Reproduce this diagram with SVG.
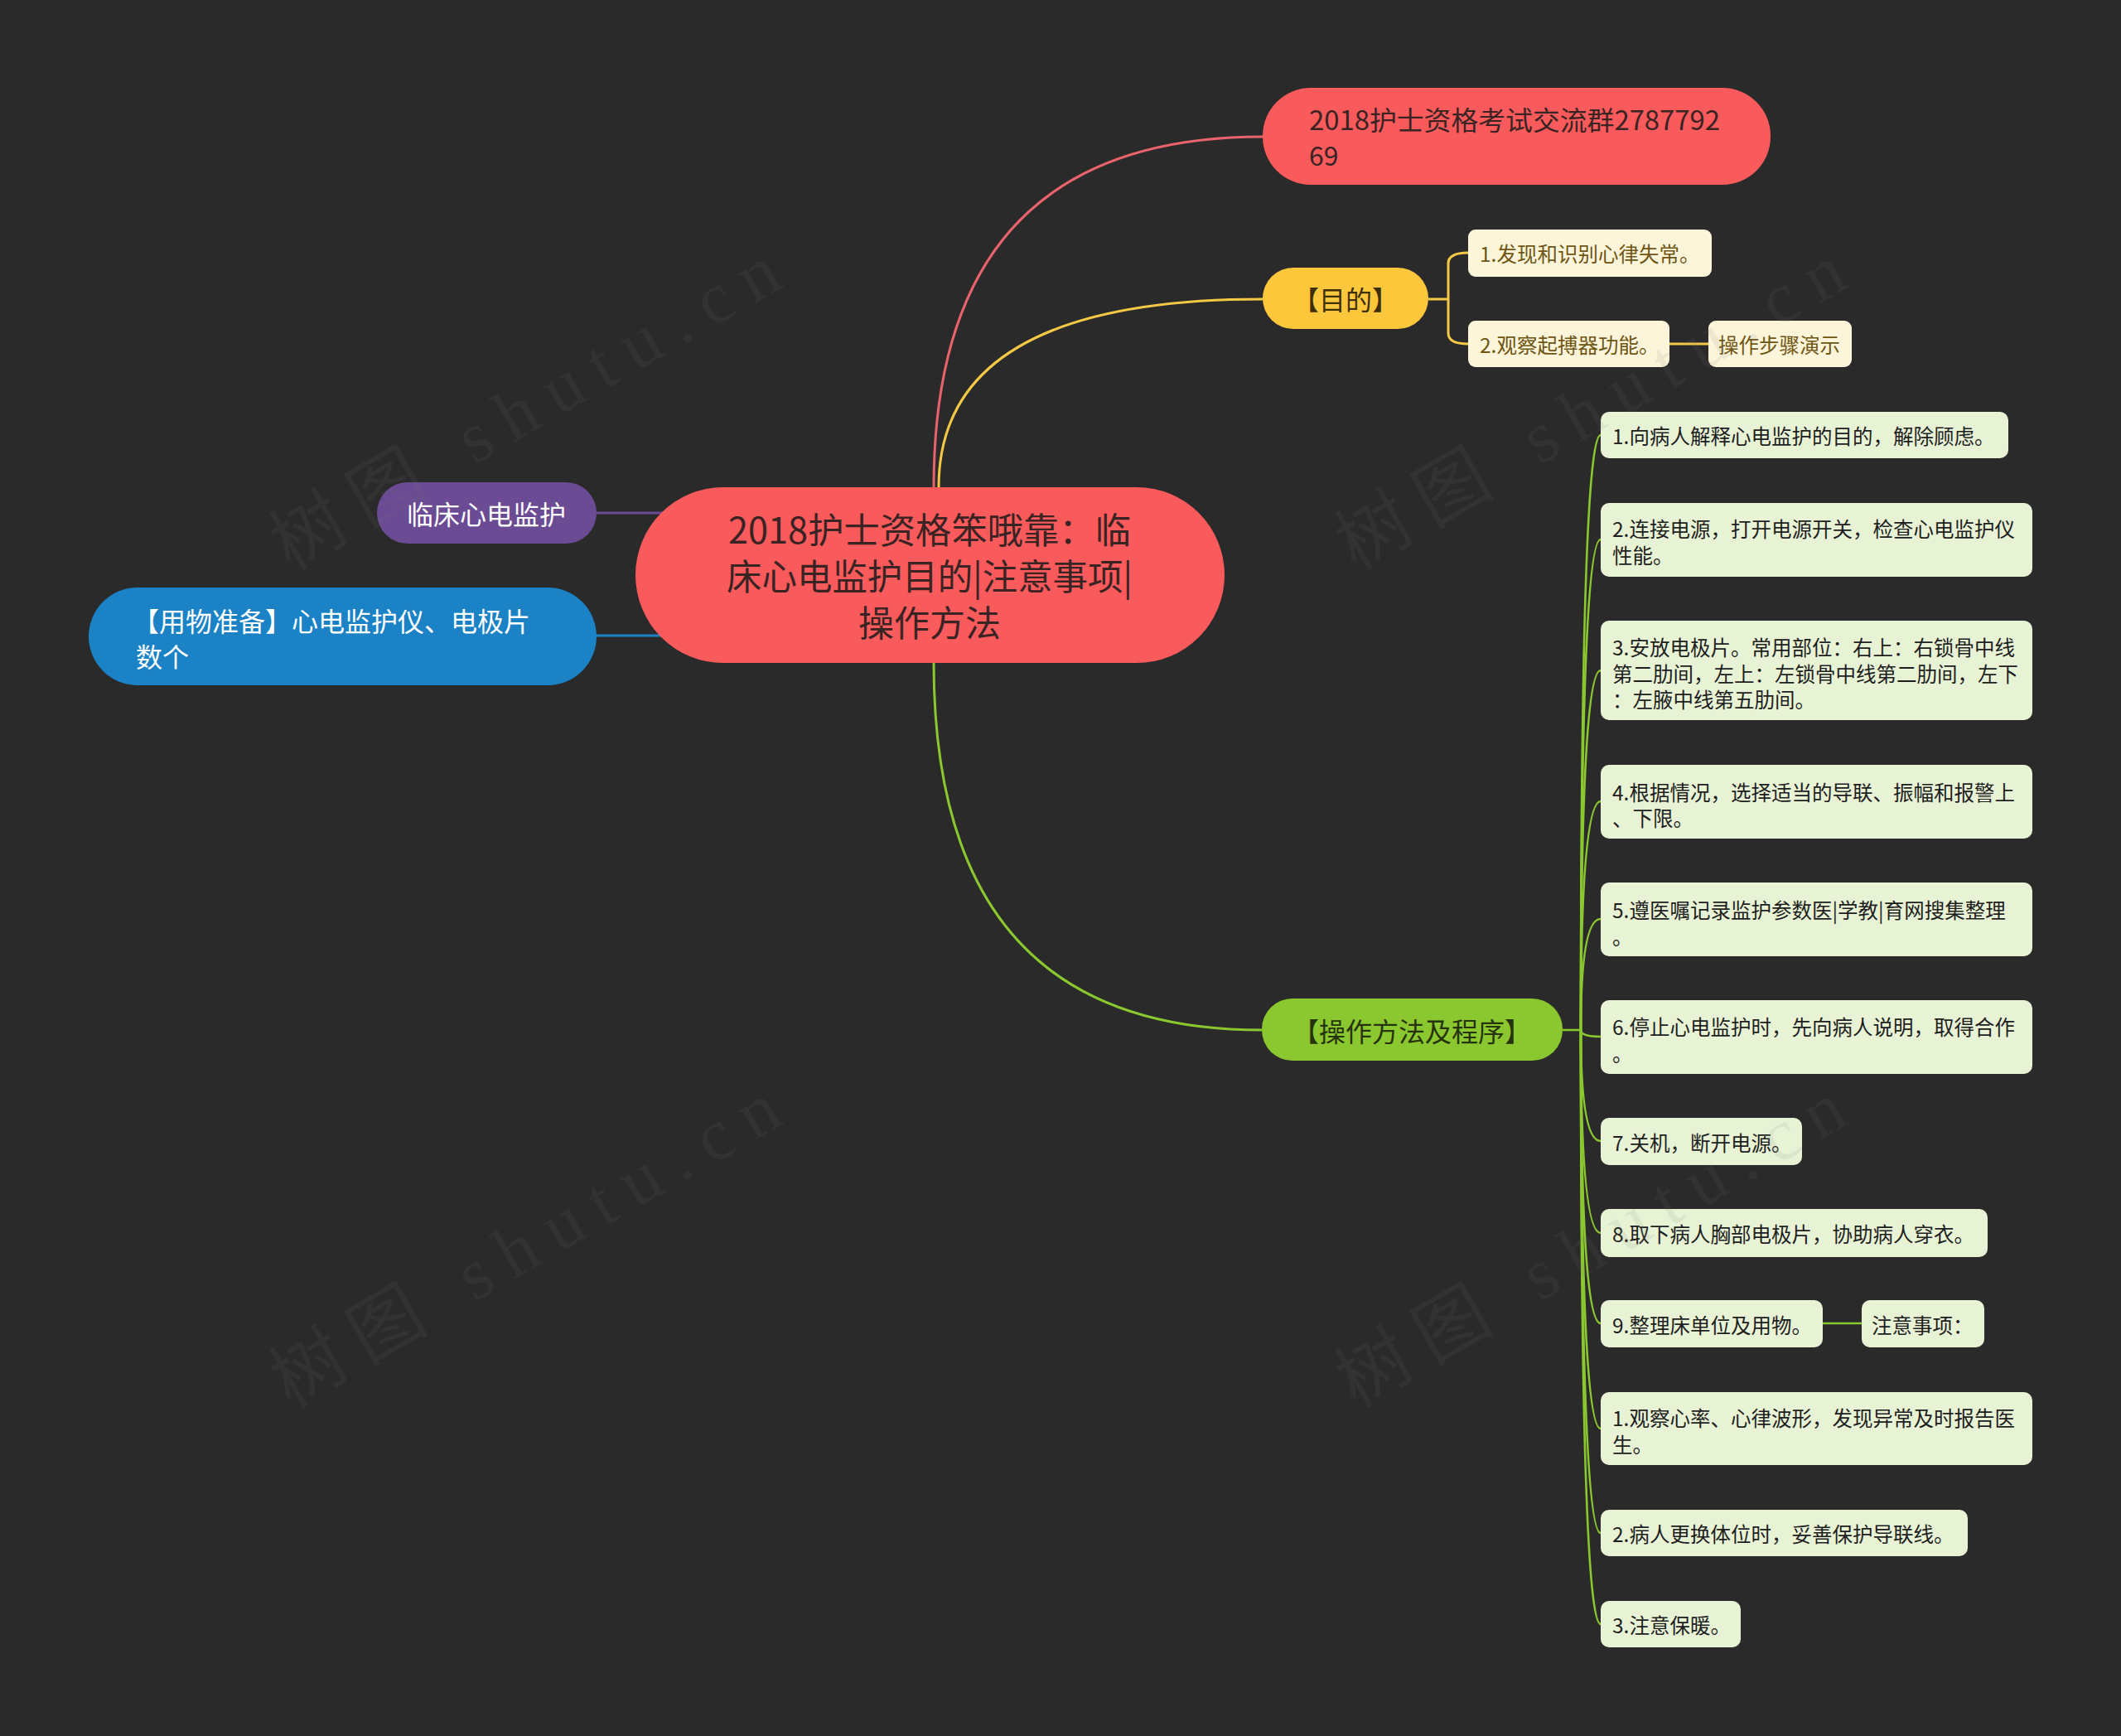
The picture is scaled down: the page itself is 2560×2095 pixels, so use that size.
<svg xmlns="http://www.w3.org/2000/svg" width="2560" height="2095" viewBox="0 0 2560 2095">
<defs>
<style>
text{font-family:"Noto Sans CJK SC","Noto Sans",sans-serif;dominant-baseline:central}
.main{font-size:43px;fill:#3a2323}
.t32{font-size:32px}
.t24{font-size:24.5px}
.dark{fill:#3a2323}
.white{fill:#ffffff}
.yd{fill:#3d2f0a}
.yc{fill:#6e5513}
.gd{fill:#26330f}
.gc{fill:#1e1e1e}
.ybox{fill:#fdf5da}
.gbox{fill:#e8f3d5}
.wm{font-family:"Liberation Serif","Noto Sans CJK SC",serif;font-size:88px;fill:#777777;fill-opacity:0.11;dominant-baseline:alphabetic}
.c{fill:none;stroke-width:3}
</style>
</defs>
<rect width="2560" height="2095" fill="#2a2a2a"/>
<g id="connectors">
<path class="c" stroke="#e8636b" d="M1127,588 Q1127,165 1524,165"/>
<path class="c" stroke="#f5c846" d="M1133,588 Q1133,361 1524,361"/>
<path class="c" stroke="#8bc72f" d="M1127,800 Q1127,1243 1523,1243"/>
<path class="c" stroke="#6b4b94" d="M720,619 H900"/>
<path class="c" stroke="#1b82c5" d="M720,767 H900"/>
<path class="c" stroke="#f5c846" d="M1724,361 H1748 M1748,361 V318 Q1748,305 1772,305 M1748,361 V402 Q1748,415 1772,415 M2015,415 H2062"/>
<g stroke="#8bc72f" fill="none" stroke-width="2.6">
<path d="M1886,1243 H1908"/>
<path d="M1908,1243 Q1908,525 1932,525"/>
<path d="M1908,1243 Q1908,651 1932,651"/>
<path d="M1908,1243 Q1908,809 1932,809"/>
<path d="M1908,1243 Q1908,967 1932,967"/>
<path d="M1908,1243 Q1908,1109 1932,1109"/>
<path d="M1908,1243 Q1908,1251 1932,1251"/>
<path d="M1908,1243 Q1908,1377 1932,1377"/>
<path d="M1908,1243 Q1908,1488 1932,1488"/>
<path d="M1908,1243 Q1908,1597 1932,1597"/>
<path d="M1908,1243 Q1908,1724 1932,1724"/>
<path d="M1908,1243 Q1908,1850 1932,1850"/>
<path d="M1908,1243 Q1908,1960 1932,1960"/>
<path d="M2200,1597 H2247"/>
</g>
</g>
<g id="central">
<rect x="767" y="588" width="711" height="212" rx="106" fill="#f95a5b"/>
<text class="main" x="1122" y="637" text-anchor="middle" textLength="486" lengthAdjust="spacingAndGlyphs">2018护士资格笨哦靠：临</text>
<text class="main" x="1122" y="693" text-anchor="middle" textLength="490" lengthAdjust="spacingAndGlyphs">床心电监护目的|注意事项|</text>
<text class="main" x="1122" y="749" text-anchor="middle">操作方法</text>
</g>
<g id="n-qq">
<rect x="1524" y="106" width="613" height="117" rx="58" fill="#f95a5b"/>
<text class="t32 dark" x="1580" y="143" textLength="496" lengthAdjust="spacingAndGlyphs">2018护士资格考试交流群2787792</text>
<text class="t32 dark" x="1580" y="186">69</text>
</g>
<g id="n-mudi">
<rect x="1524" y="323" width="200" height="74" rx="37" fill="#fdc73c"/>
<text class="t32 yd" x="1624" y="360" text-anchor="middle">【目的】</text>
</g>
<g id="n-mudi-1">
<rect class="ybox" x="1772" y="277" width="294" height="57" rx="9"/>
<text class="t24 yc" x="1786" y="305">1.发现和识别心律失常。</text>
</g>
<g id="n-mudi-2">
<rect class="ybox" x="1772" y="387" width="243" height="56" rx="9"/>
<text class="t24 yc" x="1786" y="415">2.观察起搏器功能。</text>
</g>
<g id="n-mudi-3">
<rect class="ybox" x="2062" y="387" width="173" height="56" rx="9"/>
<text class="t24 yc" x="2074" y="415">操作步骤演示</text>
</g>
<g id="n-linchuang">
<rect x="455" y="582" width="265" height="74" rx="37" fill="#6b4b94"/>
<text class="t32 white" x="587" y="619" text-anchor="middle">临床心电监护</text>
</g>
<g id="n-yongwu">
<rect x="107" y="709" width="613" height="118" rx="59" fill="#1b82c5"/>
<text class="t32 white" x="160" y="748">【用物准备】心电监护仪、电极片</text>
<text class="t32 white" x="164" y="791">数个</text>
</g>
<g id="n-caozuo">
<rect x="1523" y="1205" width="363" height="75" rx="37" fill="#8bc72f"/>
<text class="t32 gd" x="1704" y="1243" text-anchor="middle">【操作方法及程序】</text>
</g>
<g id="s1"><rect class="gbox" x="1932" y="497" width="492" height="56" rx="10"/><text class="t24 gc" x="1946" y="525">1.向病人解释心电监护的目的，解除顾虑。</text></g>
<g id="s2"><rect class="gbox" x="1932" y="607" width="521" height="89" rx="10"/><text class="t24 gc" x="1946" y="637">2.连接电源，打开电源开关，检查心电监护仪</text><text class="t24 gc" x="1946" y="669">性能。</text></g>
<g id="s3"><rect class="gbox" x="1932" y="749" width="521" height="120" rx="10"/><text class="t24 gc" x="1946" y="780">3.安放电极片。常用部位：右上：右锁骨中线</text><text class="t24 gc" x="1946" y="812">第二肋间，左上：左锁骨中线第二肋间，左下</text><text class="t24 gc" x="1946" y="843">：左腋中线第五肋间。</text></g>
<g id="s4"><rect class="gbox" x="1932" y="923" width="521" height="89" rx="10"/><text class="t24 gc" x="1946" y="955">4.根据情况，选择适当的导联、振幅和报警上</text><text class="t24 gc" x="1946" y="986">、下限。</text></g>
<g id="s5"><rect class="gbox" x="1932" y="1065" width="521" height="89" rx="10"/><text class="t24 gc" x="1946" y="1097">5.遵医嘱记录监护参数医|学教|育网搜集整理</text><text class="t24 gc" x="1946" y="1129">。</text></g>
<g id="s6"><rect class="gbox" x="1932" y="1207" width="521" height="89" rx="10"/><text class="t24 gc" x="1946" y="1238">6.停止心电监护时，先向病人说明，取得合作</text><text class="t24 gc" x="1946" y="1270">。</text></g>
<g id="s7"><rect class="gbox" x="1932" y="1349" width="243" height="57" rx="10"/><text class="t24 gc" x="1946" y="1378">7.关机，断开电源。</text></g>
<g id="s8"><rect class="gbox" x="1932" y="1459" width="467" height="58" rx="10"/><text class="t24 gc" x="1946" y="1488">8.取下病人胸部电极片，协助病人穿衣。</text></g>
<g id="s9"><rect class="gbox" x="1932" y="1569" width="268" height="57" rx="10"/><text class="t24 gc" x="1946" y="1598">9.整理床单位及用物。</text></g>
<g id="s9a"><rect class="gbox" x="2247" y="1569" width="148" height="57" rx="10"/><text class="t24 gc" x="2259" y="1598">注意事项：</text></g>
<g id="s10"><rect class="gbox" x="1932" y="1680" width="521" height="88" rx="10"/><text class="t24 gc" x="1946" y="1710">1.观察心率、心律波形，发现异常及时报告医</text><text class="t24 gc" x="1946" y="1742">生。</text></g>
<g id="s11"><rect class="gbox" x="1932" y="1822" width="443" height="56" rx="10"/><text class="t24 gc" x="1946" y="1850">2.病人更换体位时，妥善保护导联线。</text></g>
<g id="s12"><rect class="gbox" x="1932" y="1932" width="169" height="56" rx="10"/><text class="t24 gc" x="1946" y="1960">3.注意保暖。</text></g>
<g id="watermarks">
<text class="wm" transform="translate(350,690) rotate(-30)" textLength="690" lengthAdjust="spacing">树图 shutu.cn</text>
<text class="wm" transform="translate(350,1700) rotate(-30)" textLength="690" lengthAdjust="spacing">树图 shutu.cn</text>
<text class="wm" transform="translate(1636,690) rotate(-30)" textLength="690" lengthAdjust="spacing">树图 shutu.cn</text>
<text class="wm" transform="translate(1636,1700) rotate(-30)" textLength="690" lengthAdjust="spacing">树图 shutu.cn</text>
</g>
</svg>
